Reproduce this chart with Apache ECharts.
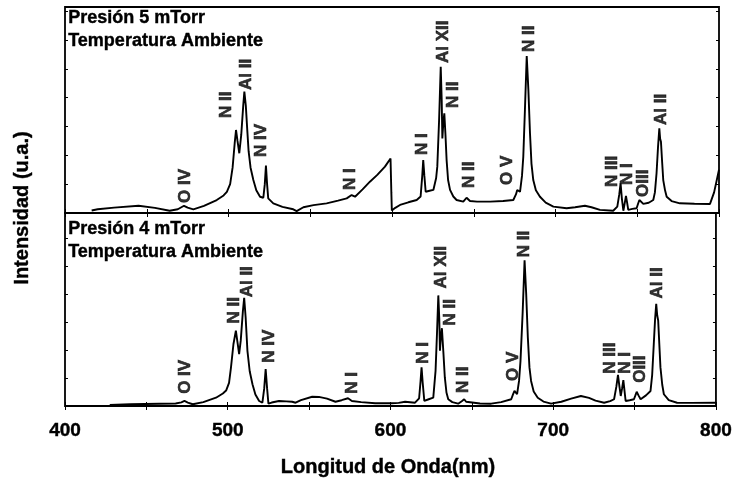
<!DOCTYPE html>
<html>
<head>
<meta charset="utf-8">
<script src="https://cdn.jsdelivr.net/npm/echarts@6/dist/echarts.min.js"></script>
<style>
  html, body { margin: 0; padding: 0; background: #fff; }
  #main { width: 735px; height: 487px; }
</style>
</head>
<body>
<div id="main"></div>
<script>
// espectro a 5 mTorr (panel superior)
var wl5 = [416.3, 420, 430, 445, 455, 464, 469, 472.8, 475, 478.5, 485, 492.8, 497, 499, 501, 502.5, 503.8, 504.6, 505.5, 506.6,
    507.8, 509, 509.7, 510.6, 511.5, 512.3, 513.5, 515.2, 517, 519.3, 521.3, 522.2, 522.9, 523.6, 524.3, 527.4, 533, 539.6, 541.7, 545.8,
    552, 560, 567, 572.3, 575.3, 577.4, 582, 586.5, 591, 595.7, 599.1, 599.6, 599.9, 602, 604.9, 610, 615.1, 617.5, 618.5, 619.1,
    619.8, 620.6, 623, 625.3, 627, 627.7, 628.8, 629.8, 630.4, 630.8, 631.4, 632.0, 632.7, 633.4, 634.3, 635.5, 637.5, 639.5, 643.6, 645.6,
    647.7, 652, 660, 668, 674.2, 675.8, 676.6, 678.3, 679.5, 680.3, 681.3, 682.4, 683.4, 684.4, 685.3, 686.4, 688, 690.5, 694, 698.7,
    706.8, 712, 718, 722, 727.2, 735.3, 737.8, 739, 739.8, 740.6, 741.5, 742.4, 743.1, 743.8, 744.5, 747, 749.6, 750.5, 751.3, 752.3,
    753.7, 757, 759.8, 760.8, 761.8, 762.7, 763.5, 764.0, 764.5, 765.2, 765.9, 767, 768, 771, 776.1, 785, 794.5, 797, 800];
var int5 = [1.2, 1.8, 2.6, 3.5, 2.5, 1.1, 1.8, 3.5, 2.6, 1.8, 3.5, 6.3, 8.5, 10.3, 14, 22, 34, 40.3, 35, 29,
    38, 52, 58.9, 52, 40, 30, 22, 16, 11, 7.9, 7.4, 14, 23, 14, 7.1, 4.7, 3, 1.8, 0.9, 2.8,
    3.8, 4.7, 6, 7.1, 8.7, 7.9, 11.5, 15.2, 18.5, 22.5, 26.5, 10, 1.2, 2.5, 3.9, 5.2, 6.3, 8, 18, 25.7,
    18, 10.3, 10.8, 11.2, 17, 22.5, 45, 71, 55, 36.2, 44, 48.4, 38, 25.7, 16, 11.2, 8, 6.3, 5.5, 7.4,
    5.8, 5.5, 5.5, 5.8, 6.3, 9, 11.2, 10.3, 18, 27.3, 50, 76.2, 60, 38.7, 24, 16, 11, 7.9, 5, 3.1,
    2.3, 2.8, 3.5, 2.8, 1.5, 1.1, 3.1, 9, 14.4, 7, 1.1, 5, 8.3, 5, 1.5, 2, 2.3, 4.5, 6.3, 5.5,
    4.4, 5, 6.3, 10, 19.3, 32, 41.1, 36, 34.6, 25, 16, 11, 7.9, 5.8, 4.7, 4.5, 4.4, 10, 21];

// espectro a 4 mTorr (panel inferior)
var wl4 = [427.5, 440, 458, 468, 471.5, 473.4, 475.5, 478.5, 485, 492.8, 497, 499, 500.8, 502, 503.5, 505, 506, 507, 508, 509.3,
    510.1, 511, 512.1, 513.5, 515.2, 517, 519.3, 521.3, 522.4, 523.3, 524.2, 525, 527, 531.5, 536, 539.6, 541.7, 545, 551.9, 556,
    561, 566.2, 570, 573.9, 576.3, 582, 590.6, 600.8, 605, 609, 615.1, 617.6, 618.5, 619.1, 619.8, 620.8, 623.5, 626.3, 627.7, 628.6,
    629.4, 630.0, 630.4, 631.0, 631.6, 632.5, 633.4, 634.4, 635.5, 638, 641.6, 643.8, 645.3, 646.5, 647.7, 655, 661.9, 668, 674.2, 675.3,
    676.2, 677.8, 679.0, 679.9, 681.2, 682.4, 683.4, 684.4, 685.4, 686.4, 688, 690.5, 694, 698.7, 705, 711, 717, 722, 726, 731.3,
    735, 737.4, 738.8, 739.8, 740.7, 741.5, 742.3, 743.1, 743.8, 744.5, 747, 749.6, 750.5, 751.3, 752.4, 753.7, 757, 759.8, 760.8, 761.8,
    762.6, 763.3, 763.9, 764.5, 765.2, 765.9, 767, 768, 771, 776.1, 785, 800];
var int4 = [0.5, 0.9, 1.2, 1.3, 1.9, 2.6, 1.8, 0.9, 2, 4.3, 6.5, 8, 12, 20, 32, 39, 33, 26.9, 34, 49,
    56.1, 46, 28.6, 18, 11.3, 6, 2.6, 1.7, 9, 19.1, 9, 1.2, 1.8, 2.6, 2.4, 2.2, 1.7, 3, 4.8, 4.7,
    3.8, 2.2, 3, 4, 2.6, 2, 1.4, 1.4, 1.6, 2.2, 1.7, 4, 13, 20, 12, 2.6, 3.5, 4.3, 18.2, 38,
    57.3, 45, 28.6, 36, 40.3, 28, 14.8, 7, 3.5, 2, 1.2, 2.5, 3.5, 2.2, 1.2, 1.3, 1.2, 2, 3.5, 6,
    7.8, 6.1, 13, 23.4, 48, 75.5, 58, 35.6, 20, 13, 7.5, 4.3, 2.3, 1.2, 2.2, 3.8, 5.2, 4.2, 2.8, 1.7,
    2.5, 3.5, 10, 16.1, 10, 5.2, 9, 13.4, 8, 2.6, 3, 3.5, 5.5, 7.4, 5.5, 3.5, 5.5, 7.8, 16, 32.1,
    45, 53, 47, 44.3, 32, 20, 11, 6.1, 3, 1.7, 1.6, 1.7];

// etiquetas de las lineas: nombre, longitud de onda, intensidad donde empieza el texto
var lineNames = ['O IV', 'N II', 'Al II', 'N IV', 'N I', 'N I', 'Al XII', 'N II', 'N II', 'O V', 'N II', 'N III', 'N I', 'OIII', 'Al II'];
var labelWl5 = [473.4, 498.9, 511.1, 520.3, 574.3, 618.8, 631.4, 637.5, 647.3, 670.7, 684, 735, 744, 753.5, 764.9];
var labelInt5 = [4.9, 46.1, 59.7, 27.2, 11.2, 28.2, 72.8, 51, 12.1, 13.6, 78.2, 12.6, 13.6, 7.8, 42.7];
var labelWl4 = [474, 504, 512.1, 525.4, 576.3, 620.2, 631, 636.5, 644.6, 675.2, 682.4, 735, 744, 753.5, 763.9];
var labelInt4 = [6.3, 42.7, 56.3, 22.4, 6.3, 21.9, 60.9, 41.7, 6.8, 13, 77.1, 16.7, 16.7, 12, 55.7];

var xTicks = [400, 500, 600, 700, 800];

var font = 'Liberation Sans, Arial, sans-serif';

function pairs(xs, ys) {
    var out = [];
    for (var i = 0; i < xs.length; i++) {
        out.push([xs[i], ys[i]]);
    }
    return out;
}

function labelData(xs, ys) {
    var out = [];
    for (var i = 0; i < xs.length; i++) {
        out.push({ value: [xs[i], ys[i]], name: lineNames[i] });
    }
    return out;
}

function xAxisFor(gridIndex, position, showLabels) {
    return {
        type: 'value', gridIndex: gridIndex, position: position,
        min: 400, max: 800, interval: 50,
        axisLine: { show: false },
        axisTick: { show: true, inside: true, length: 4, lineStyle: { color: '#000', width: 1 } },
        splitLine: { show: false },
        axisLabel: {
            show: showLabels, margin: 15,
            fontFamily: font, fontWeight: 'bold', fontSize: 19, color: '#000',
            textBorderColor: '#000', textBorderWidth: 0.4,
            formatter: function (v) { return xTicks.indexOf(v) >= 0 ? String(v) : ''; }
        }
    };
}

function yAxisFor(gridIndex, position, maxV, step) {
    return {
        type: 'value', gridIndex: gridIndex, position: position,
        min: 0, max: maxV, interval: step,
        axisLine: { show: false },
        axisTick: { show: true, inside: true, length: 3, lineStyle: { color: '#000', width: 1 } },
        splitLine: { show: false },
        axisLabel: { show: false }
    };
}

// texto vertical de cada linea espectral
var peakLabel = {
    show: true, position: 'inside', rotate: 90, align: 'left', verticalAlign: 'middle',
    formatter: '{b}', fontFamily: font, fontWeight: 'bold', fontSize: 17, color: '#000',
    textBorderColor: '#000', textBorderWidth: 0.6
};

var chart = echarts.init(document.getElementById('main'));

var option = {
    backgroundColor: '#fff',
    animation: false,
    grid: [
        { left: 65, right: 16, top: 7, height: 206, show: true, borderColor: '#000', borderWidth: 1.8, backgroundColor: 'transparent' },
        { left: 65, right: 16, top: 213, height: 193, show: true, borderColor: '#000', borderWidth: 1.8, backgroundColor: 'transparent' }
    ],
    xAxis: [
        xAxisFor(0, 'bottom', false),
        xAxisFor(0, 'top', false),
        xAxisFor(1, 'bottom', true),
        xAxisFor(1, 'top', false)
    ],
    yAxis: [
        yAxisFor(0, 'left', 100, 14),
        yAxisFor(0, 'right', 100, 14),
        yAxisFor(1, 'left', 100, 14.5),
        yAxisFor(1, 'right', 100, 14.5)
    ],
    graphic: [
        {
            type: 'text', left: 68, top: 7,
            style: { text: 'Presión 5 mTorr\nTemperatura Ambiente', font: 'bold 18px ' + font, lineHeight: 23, fill: '#000', stroke: '#000', lineWidth: 0.4 }
        },
        {
            type: 'text', left: 68, top: 218,
            style: { text: 'Presión 4 mTorr\nTemperatura Ambiente', font: 'bold 18px ' + font, lineHeight: 23, fill: '#000', stroke: '#000', lineWidth: 0.4 }
        },
        {
            type: 'text', x: 388, y: 467,
            style: { text: 'Longitud de Onda(nm)', font: 'bold 20px ' + font, fill: '#000', align: 'center', verticalAlign: 'middle', stroke: '#000', lineWidth: 0.4 }
        },
        {
            type: 'text', x: 22, y: 208, rotation: Math.PI / 2,
            style: { text: 'Intensidad (u.a.)', font: 'bold 20px ' + font, fill: '#000', align: 'center', verticalAlign: 'middle', stroke: '#000', lineWidth: 0.4 }
        }
    ],
    series: [
        {
            type: 'line', xAxisIndex: 0, yAxisIndex: 0, data: pairs(wl5, int5),
            showSymbol: false, lineStyle: { color: '#000', width: 1.9 }, z: 2
        },
        {
            type: 'line', xAxisIndex: 2, yAxisIndex: 2, data: pairs(wl4, int4),
            showSymbol: false, lineStyle: { color: '#000', width: 1.9 }, z: 2
        },
        {
            type: 'scatter', xAxisIndex: 0, yAxisIndex: 0, data: labelData(labelWl5, labelInt5),
            symbolSize: 0, label: peakLabel, z: 3
        },
        {
            type: 'scatter', xAxisIndex: 2, yAxisIndex: 2, data: labelData(labelWl4, labelInt4),
            symbolSize: 0, label: peakLabel, z: 3
        }
    ]
};

chart.setOption(option);
</script>
</body>
</html>
